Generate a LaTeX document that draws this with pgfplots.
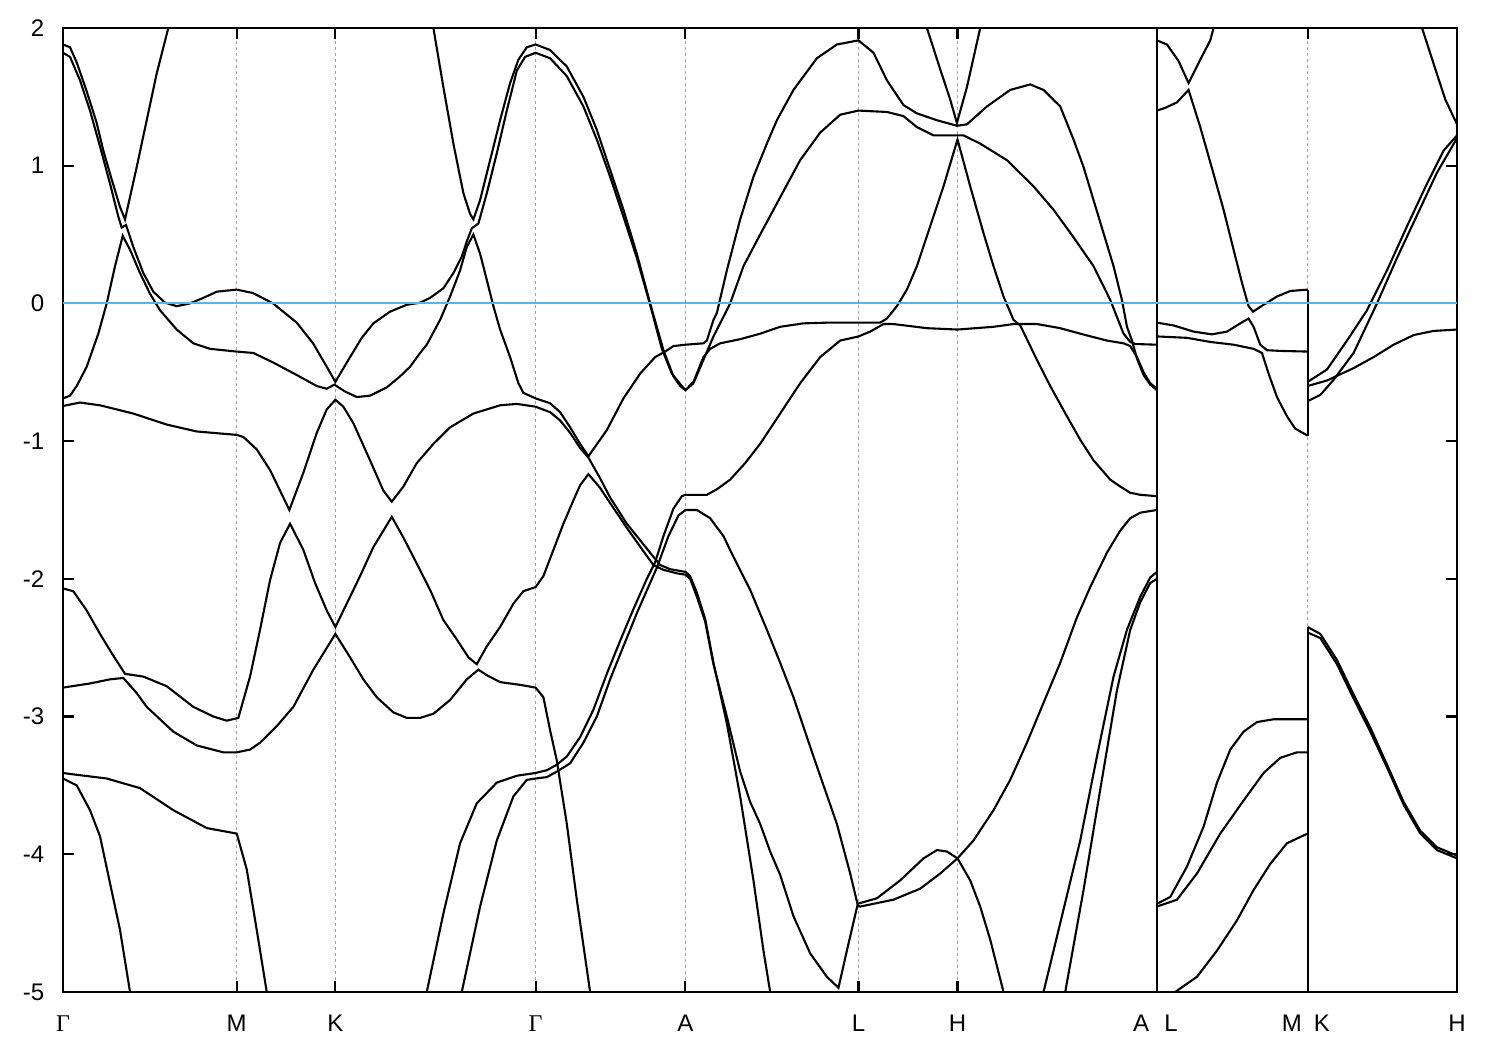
\documentclass[border=0pt]{standalone}
\usepackage{fontspec}
\setmainfont{Liberation Sans}
\newfontfamily\serifgr{Liberation Serif}
\usepackage{pgfplots}
\pgfplotsset{compat=1.18}
\definecolor{fermi}{RGB}{86,180,233}
\begin{document}
\begin{tikzpicture}
\begin{axis}[name=ax,
  width=464.67pt, height=321.33pt, scale only axis,
  xmin=63, xmax=1456.7, ymin=-5, ymax=2,
  axis line style={line width=0.7pt},
  every tick/.style={black, line width=0.7pt},
  major tick length=3.6pt, tick align=inside,
  xtick={63,236.7,335.3,535.5,685.3,858.3,957.3,1156.7,1307.3,1456.7},
  xticklabels={{\serifgr Γ},M,K,{\serifgr Γ},A,L,H,{\llap{A\hspace{2.6pt}}\rlap{\hspace{2.5pt}L}},{\llap{M\hspace{1.9pt}}\rlap{\hspace{2.1pt}K}},H},
  ytick={-5,-4,-3,-2,-1,0,1,2},
  yticklabels={-5,-4,-3,-2,-1,0,1,2},
  tick label style={font=\fontsize{8}{9.6}\selectfont},
  xticklabel style={yshift=-4.3pt},
  yticklabel style={xshift=-2.7pt},
  xmajorgrids,
  grid style={gray!70, line width=0.4pt, dash pattern=on 1pt off 1pt},
  band/.style={black, line width=0.7pt, mark=none},
]
% Gamma -> M -> K -> Gamma -> A -> L -> H -> A | L -> M | K -> H
\addplot[band] coordinates {(168.3,2.0) (156.7,1.67) (146.7,1.33) (136.7,0.99) (125,0.61) (120,0.70) (111.7,0.90) (103.3,1.11) (96.7,1.31) (86.7,1.54) (76.7,1.75) (70,1.86) (63,1.88)};
\addplot[band] coordinates {(63,1.82) (70,1.79) (80,1.62) (90,1.40) (100,1.14) (110,0.87) (118.3,0.63) (121.7,0.55) (126,0.57) (133.3,0.41) (143.3,0.22) (153.3,0.085) (165,0.005) (176.7,-0.02) (190,0.0) (203.3,0.04) (216.7,0.085) (236.7,0.10) (253,0.075) (273,0.0) (296.7,-0.14) (313,-0.29) (326.7,-0.46) (335.3,-0.57) (346.7,-0.43) (361.7,-0.25) (373.3,-0.145) (390,-0.06) (406.7,-0.01) (420,0.005) (430,0.04) (443.3,0.11) (453.3,0.22) (461.7,0.34) (466.7,0.45) (471.7,0.545) (478.3,0.58) (486.7,0.80) (496.7,1.09) (506.7,1.40) (516.7,1.69) (525,1.79) (535.5,1.82) (550,1.78) (566.7,1.65) (583.3,1.43) (596.7,1.19) (610,0.92) (623.3,0.63) (636.7,0.33) (650,-0.01) (661.7,-0.33) (671.7,-0.51) (681.7,-0.60) (685.3,-0.63) (693.3,-0.58) (703.3,-0.41) (713.3,-0.24) (721.7,-0.12) (730,0.0) (743.3,0.27) (760,0.50) (780,0.77) (800,1.04) (820,1.24) (840,1.37) (858.3,1.40) (886.7,1.39) (903.3,1.36) (916.7,1.28) (933.3,1.22) (957.3,1.22) (963.3,1.22) (980,1.16) (1006.7,1.04) (1033.3,0.85) (1053.3,0.68) (1073.3,0.48) (1093.3,0.27) (1110,0.025) (1123.3,-0.22) (1130,-0.28) (1135,-0.295) (1156.7,-0.30)};
\addplot[band] coordinates {(433.3,2.0) (443.3,1.57) (453.3,1.16) (463.3,0.80) (470,0.65) (473.3,0.61) (480,0.75) (490,1.04) (500,1.33) (510,1.60) (518.3,1.77) (526.7,1.86) (535.5,1.88) (550,1.84) (566.7,1.72) (583.3,1.50) (596.7,1.26) (610,0.97) (623.3,0.68) (636.7,0.36) (650,0.0) (663.3,-0.34) (673.3,-0.53) (680,-0.60) (685.3,-0.63) (693.3,-0.57) (703.3,-0.39) (710,-0.33) (720,-0.29) (740,-0.26) (760,-0.22) (780,-0.17) (803.3,-0.145) (826.7,-0.14) (858.3,-0.14) (880,-0.14) (886.7,-0.11) (896.7,-0.02) (906.7,0.10) (916.7,0.27) (930,0.56) (943.3,0.85) (957.3,1.19) (970,0.85) (983.3,0.51) (993.3,0.27) (1003.3,0.05) (1013.3,-0.12) (1020,-0.16) (1036.7,-0.41) (1050,-0.60) (1066.7,-0.82) (1080,-0.99) (1093.3,-1.14) (1110,-1.28) (1120,-1.33) (1130,-1.375) (1140,-1.39) (1156.7,-1.40)};
\addplot[band] coordinates {(63,-0.69) (70,-0.67) (76.7,-0.60) (86.7,-0.46) (98.3,-0.22) (106.7,0.0) (115,0.27) (122.7,0.49) (130,0.39) (140,0.22) (150,0.07) (160,-0.05) (176.7,-0.19) (193.3,-0.29) (210,-0.33) (236.7,-0.35) (253.3,-0.36) (273.3,-0.43) (296.7,-0.52) (316.7,-0.60) (326.7,-0.62) (334.3,-0.59) (345,-0.64) (356.7,-0.68) (370,-0.67) (386.7,-0.61) (400,-0.53) (410,-0.46) (420,-0.36) (426.7,-0.30) (440,-0.12) (450,0.05) (460,0.24) (466.7,0.41) (473.3,0.50) (480,0.36) (486.7,0.17) (493.3,-0.02) (500,-0.19) (510,-0.39) (518.3,-0.58) (523.3,-0.65) (535.5,-0.69) (550,-0.725) (560,-0.79) (570,-0.90) (580,-1.02) (588.3,-1.11) (606.7,-0.92) (623.3,-0.69) (640,-0.51) (655,-0.39) (665,-0.35) (673.3,-0.31) (685.3,-0.30) (703.3,-0.29) (706.7,-0.27) (713.3,-0.12) (716.7,-0.07) (726.7,0.24) (740,0.61) (753.3,0.92) (766.7,1.16) (776.7,1.33) (793.3,1.55) (816.7,1.78) (836.7,1.88) (858.3,1.91) (873.3,1.82) (886.7,1.62) (903.3,1.44) (916.7,1.38) (936.7,1.33) (956.7,1.29) (966.7,1.30) (986.7,1.43) (1010,1.55) (1030,1.59) (1043.3,1.55) (1060,1.43) (1073.3,1.19) (1083.3,0.99) (1093.3,0.75) (1103.3,0.51) (1113.3,0.27) (1121.7,0.025) (1126.7,-0.17) (1131.7,-0.27) (1136.7,-0.40) (1143.3,-0.52) (1150,-0.59) (1156.7,-0.63)};
\addplot[band] coordinates {(63,-0.745) (80,-0.72) (100,-0.74) (133.3,-0.80) (166.7,-0.88) (196.7,-0.93) (236.7,-0.955) (243.3,-0.97) (256.7,-1.06) (270,-1.21) (280,-1.36) (289.3,-1.50) (303.3,-1.23) (316.7,-0.94) (326.7,-0.77) (335.3,-0.70) (343.3,-0.75) (353.3,-0.87) (370,-1.14) (383.3,-1.36) (391.7,-1.44) (403.3,-1.33) (416.7,-1.16) (433.3,-1.02) (450,-0.90) (473.3,-0.80) (500,-0.74) (516.7,-0.73) (535.5,-0.75) (550,-0.79) (560,-0.85) (570,-0.94) (580,-1.05) (588.3,-1.12) (600,-1.27) (610,-1.41) (626.7,-1.60) (643.3,-1.75) (653.3,-1.84) (660,-1.90) (670,-1.93) (685.3,-1.95) (690,-1.98) (696.7,-2.10) (705,-2.29) (713.3,-2.61) (726.7,-3.05) (740,-3.58) (753.3,-4.19) (763.3,-4.70) (770,-5.0)};
\addplot[band] coordinates {(63,-2.07) (73.3,-2.09) (86.7,-2.23) (100,-2.40) (111.7,-2.54) (125,-2.69) (143.3,-2.71) (166.7,-2.78) (193.3,-2.93) (213.3,-3.00) (226.7,-3.03) (238.3,-3.01) (250,-2.71) (260,-2.37) (270,-2.01) (280,-1.74) (290,-1.60) (303.3,-1.79) (315,-2.03) (326.7,-2.23) (335.3,-2.35) (346.7,-2.18) (360,-1.98) (373.3,-1.77) (391.7,-1.55) (403.3,-1.70) (416.7,-1.89) (430,-2.08) (443.3,-2.30) (456.7,-2.44) (468.3,-2.57) (476.7,-2.62) (486.7,-2.49) (500,-2.35) (513.3,-2.18) (523.3,-2.09) (535.5,-2.06) (543.3,-1.98) (553.3,-1.79) (563.3,-1.60) (573.3,-1.43) (580,-1.32) (588.3,-1.24) (600,-1.34) (610,-1.45) (626.7,-1.63) (643.3,-1.80) (653.3,-1.90) (663.3,-1.935) (676.7,-1.96) (685.3,-1.97) (690,-2.00) (696.7,-2.13) (705,-2.31) (713.3,-2.62) (726.7,-3.0) (740,-3.40) (750,-3.62) (760,-3.78) (770,-3.98) (780,-4.15) (793.3,-4.45) (810,-4.72) (826.7,-4.89) (838.3,-4.97) (846.7,-4.70) (857.3,-4.37) (860,-4.38) (893.3,-4.33) (920,-4.25) (940,-4.14) (957.3,-4.03) (973.3,-3.90) (993.3,-3.68) (1010,-3.46) (1026.7,-3.19) (1043.3,-2.90) (1060,-2.61) (1076.7,-2.28) (1090,-2.06) (1106.7,-1.81) (1120,-1.65) (1130,-1.56) (1140,-1.52) (1156.7,-1.50)};
\addplot[band] coordinates {(63,-2.79) (90,-2.76) (110,-2.73) (123.3,-2.72) (136.7,-2.83) (146.7,-2.93) (173.3,-3.11) (196.7,-3.21) (223.3,-3.26) (236.7,-3.26) (250,-3.24) (260,-3.19) (276.7,-3.07) (293.3,-2.93) (313.3,-2.66) (335.3,-2.40) (350,-2.57) (363.3,-2.73) (376.7,-2.86) (393.3,-2.97) (406.7,-3.01) (420,-3.01) (433.3,-2.98) (450,-2.88) (466.7,-2.73) (478.3,-2.66) (486.7,-2.70) (500,-2.75) (520,-2.77) (535.5,-2.79) (543.3,-2.86) (550,-3.10) (556.7,-3.32) (566.7,-3.78) (576.7,-4.33) (590,-5.0)};
\addplot[band] coordinates {(63,-3.41) (73.3,-3.42) (106.7,-3.45) (140,-3.52) (173.3,-3.68) (206.7,-3.81) (236.7,-3.85) (246.7,-4.11) (256.7,-4.55) (266.7,-5.0)};
\addplot[band] coordinates {(63,-3.45) (76.7,-3.50) (90,-3.68) (100,-3.87) (110,-4.21) (120,-4.55) (130,-5.0)};
\addplot[band] coordinates {(426.7,-5.0) (443.3,-4.43) (460,-3.92) (476.7,-3.63) (496.7,-3.48) (516.7,-3.43) (535.5,-3.41) (546.7,-3.39) (556.7,-3.35) (566.7,-3.29) (580,-3.15) (593.3,-2.95) (606.7,-2.69) (620,-2.45) (633.3,-2.22) (646.7,-2.00) (655,-1.88) (663.3,-1.69) (673.3,-1.49) (681.7,-1.40) (685.3,-1.39) (706.7,-1.39) (716.7,-1.35) (730,-1.28) (745,-1.16) (760,-1.02) (780,-0.80) (800,-0.58) (820,-0.39) (840,-0.27) (858.3,-0.24) (870,-0.205) (883.3,-0.15) (893.3,-0.15) (926.7,-0.18) (957.3,-0.19) (993.3,-0.17) (1013.3,-0.15) (1036.7,-0.15) (1060,-0.18) (1080,-0.22) (1106.7,-0.27) (1123.3,-0.29) (1130,-0.31) (1136.7,-0.39) (1143.3,-0.50) (1150,-0.58) (1156.7,-0.62)};
\addplot[band] coordinates {(461.7,-5.0) (480,-4.38) (496.7,-3.90) (513.3,-3.58) (526.7,-3.46) (535.5,-3.45) (546.7,-3.44) (556.7,-3.40) (570,-3.34) (583.3,-3.19) (596.7,-3.00) (610,-2.73) (623.3,-2.49) (636.7,-2.25) (650,-2.03) (656.7,-1.92) (668.3,-1.69) (678.3,-1.54) (685.3,-1.50) (696.7,-1.50) (710,-1.56) (723.3,-1.69) (733.3,-1.84) (750,-2.08) (766.7,-2.37) (780,-2.61) (793.3,-2.86) (813.3,-3.29) (836.7,-3.78) (850,-4.14) (857.3,-4.36) (876.7,-4.32) (900,-4.19) (923.3,-4.03) (936.7,-3.97) (946.7,-3.98) (957.3,-4.03) (970,-4.19) (980,-4.38) (990,-4.62) (1003.3,-5.0)};
\addplot[band] coordinates {(926.7,2.0) (940,1.70) (950,1.48) (956.7,1.31) (966.7,1.57) (980,2.0)};
\addplot[band] coordinates {(1043.3,-5.0) (1060,-4.50) (1080,-3.90) (1096.7,-3.29) (1113.3,-2.71) (1126.7,-2.37) (1140,-2.13) (1150,-1.99) (1156.7,-1.95)};
\addplot[band] coordinates {(1065,-5.0) (1083.3,-4.26) (1100,-3.53) (1116.7,-2.81) (1130,-2.37) (1140,-2.17) (1150,-2.03) (1156.7,-2.00)};
\addplot[band] coordinates {(1156.7,-5) (1156.7,2)};
% L -> M
\addplot[band] coordinates {(1156.7,1.91) (1166.7,1.88) (1178.3,1.76) (1188.3,1.60) (1200,1.77) (1210,1.91) (1213.3,2.0)};
\addplot[band] coordinates {(1156.7,1.40) (1165,1.42) (1176.7,1.46) (1188.3,1.55) (1200,1.28) (1213.3,0.94) (1223.3,0.68) (1233.3,0.39) (1241.7,0.15) (1248.3,-0.02) (1252.7,-0.06) (1263.3,-0.01) (1276.7,0.05) (1290,0.09) (1307.3,0.10)};
\addplot[band] coordinates {(1156.7,-0.14) (1173.3,-0.16) (1193.3,-0.205) (1211.7,-0.225) (1226.7,-0.205) (1240,-0.145) (1248.3,-0.11) (1253.3,-0.17) (1260,-0.30) (1266.7,-0.34) (1280,-0.345) (1307.3,-0.35)};
\addplot[band] coordinates {(1156.7,-0.24) (1186.7,-0.25) (1210,-0.28) (1233.3,-0.30) (1253.3,-0.33) (1261.7,-0.36) (1268.3,-0.51) (1276.7,-0.68) (1286.7,-0.82) (1295,-0.91) (1307.3,-0.96)};
\addplot[band] coordinates {(1156.7,-4.36) (1170,-4.31) (1186.7,-4.09) (1203.3,-3.80) (1216.7,-3.48) (1230,-3.24) (1243.3,-3.11) (1256.7,-3.04) (1273.3,-3.02) (1307.3,-3.02)};
\addplot[band] coordinates {(1156.7,-4.38) (1176.7,-4.33) (1196.7,-4.14) (1220,-3.85) (1243.3,-3.61) (1263.3,-3.41) (1280,-3.30) (1296.7,-3.26) (1307.3,-3.26)};
\addplot[band] coordinates {(1175,-5.0) (1196.7,-4.89) (1216.7,-4.70) (1236.7,-4.48) (1253.3,-4.26) (1270,-4.07) (1286.7,-3.92) (1307.3,-3.85)};
\addplot[band] coordinates {(1307.3,0.10) (1307.3,-0.96)};
\addplot[band] coordinates {(1307.3,-5) (1307.3,-2.35)};
% K -> H
\addplot[band] coordinates {(1307.3,-0.57) (1326.7,-0.48) (1346.7,-0.27) (1366.7,-0.05) (1386.7,0.24) (1406.7,0.56) (1426.7,0.87) (1443.3,1.11) (1456.7,1.22)};
\addplot[band] coordinates {(1307.3,-0.60) (1326.7,-0.56) (1353.3,-0.47) (1373.3,-0.39) (1393.3,-0.30) (1413.3,-0.23) (1433.3,-0.20) (1456.7,-0.19)};
\addplot[band] coordinates {(1307.3,-0.71) (1320,-0.665) (1333.3,-0.555) (1353.3,-0.36) (1376.7,0.0) (1396.7,0.33) (1416.7,0.64) (1436.7,0.95) (1456.7,1.20)};
\addplot[band] coordinates {(1421.7,2.0) (1433.3,1.74) (1445,1.48) (1456.7,1.30)};
\addplot[band] coordinates {(1307.3,-2.35) (1320,-2.40) (1336.7,-2.59) (1353.3,-2.84) (1370,-3.08) (1386.7,-3.35) (1403.3,-3.62) (1420,-3.83) (1436.7,-3.95) (1456.7,-4.01)};
\addplot[band] coordinates {(1307.3,-2.39) (1320,-2.43) (1336.7,-2.62) (1353.3,-2.87) (1370,-3.11) (1386.7,-3.37) (1403.3,-3.64) (1420,-3.85) (1436.7,-3.97) (1456.7,-4.03)};
% Fermi level
\addplot[fermi, line width=0.7pt, mark=none] coordinates {(63,0) (1456.7,0)};
\end{axis}
\pgfresetboundingbox
\path[use as bounding box] ([xshift=-21pt,yshift=-19.33pt]ax.south west) rectangle ([xshift=14.33pt,yshift=9.33pt]ax.north east);
\end{tikzpicture}
\end{document}
